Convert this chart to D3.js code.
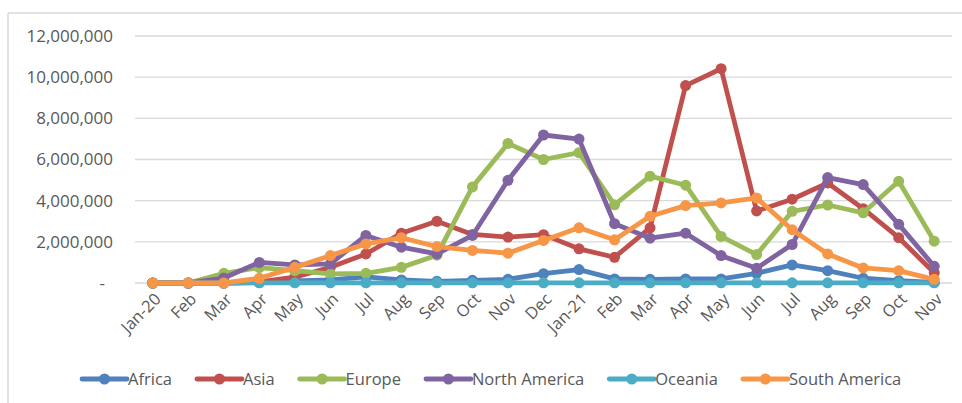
<!DOCTYPE html>
<html>
<head>
<meta charset="utf-8">
<script src="https://cdn.jsdelivr.net/npm/d3@7"></script>
<style>
  html, body { margin: 0; padding: 0; background: #fff; }
  svg { display: block; font-family: "Open Sans", sans-serif; }
</style>
</head>
<body>
<svg id="chart" width="962" height="403"></svg>
<script>
const months = ["Jan-20","Feb","Mar","Apr","May","Jun","Jul","Aug","Sep","Oct","Nov","Dec",
                "Jan-21","Feb","Mar","Apr","May","Jun","Jul","Aug","Sep","Oct","Nov"];
const seriesNames = ["Africa","Asia","Europe","North America","Oceania","South America"];
const africa       = [0,0,0,20000,100000,150000,300000,150000,80000,130000,180000,450000,650000,200000,180000,200000,200000,470000,880000,600000,230000,110000,30000];
const asia         = [0,0,0,50000,280000,760000,1410000,2420000,3000000,2360000,2230000,2350000,1660000,1250000,2680000,9590000,10410000,3500000,4070000,4860000,3610000,2200000,500000];
const europe       = [0,0,470000,750000,600000,440000,470000,760000,1350000,4670000,6780000,6000000,6330000,3800000,5190000,4750000,2260000,1380000,3480000,3790000,3410000,4940000,2030000];
const northAmerica = [0,0,240000,1000000,880000,930000,2310000,1740000,1410000,2310000,4990000,7190000,6990000,2880000,2180000,2420000,1330000,720000,1870000,5120000,4780000,2850000,810000];
const oceania      = [0,0,0,10000,10000,10000,10000,10000,10000,10000,10000,10000,10000,10000,10000,10000,10000,10000,10000,10000,10000,10000,10000];
const southAmerica = [0,0,0,230000,760000,1330000,1900000,2200000,1770000,1580000,1450000,2070000,2680000,2100000,3240000,3760000,3890000,4130000,2590000,1410000,730000,600000,180000];
const yTicks = [0,2000000,4000000,6000000,8000000,10000000,12000000];
const colors = ["#4F81BD","#C0504D","#9BBB59","#8064A2","#4BACC6","#F79646"];

const seriesValues = [africa, asia, europe, northAmerica, oceania, southAmerica];
const series = seriesNames.map((name, i) => ({ name, color: colors[i], values: seriesValues[i] }));

const svg = d3.select("#chart");
const W = 962, H = 403;
const plot = { left: 135, right: 952, top: 36, bottom: 283 };

svg.append("rect").attr("width", W).attr("height", H).attr("fill", "#fff");
// chart border (top and left visible)
svg.append("line").attr("x1", 8).attr("x2", W).attr("y1", 13).attr("y2", 13)
  .attr("stroke", "#d9d9d9").attr("stroke-width", 1.5);
svg.append("line").attr("x1", 8).attr("x2", 8).attr("y1", 13).attr("y2", H)
  .attr("stroke", "#d9d9d9").attr("stroke-width", 1.5);

const x = d3.scaleBand().domain(d3.range(months.length)).range([plot.left, plot.right]);
const y = d3.scaleLinear().domain([0, 12000000]).range([plot.bottom, plot.top]);

// gridlines
svg.append("g").selectAll("line").data(yTicks).join("line")
  .attr("x1", plot.left).attr("x2", plot.right)
  .attr("y1", d => y(d)).attr("y2", d => y(d))
  .attr("stroke", "#d9d9d9").attr("stroke-width", 1.3);

// y axis labels
const fmt = d3.format(",");
const yAxis = d3.axisLeft(y).tickValues(yTicks).tickSize(0).tickPadding(22)
  .tickFormat(d => d === 0 ? "-" : fmt(d));
const yg = svg.append("g").attr("transform", `translate(${plot.left},0)`).call(yAxis);
yg.select(".domain").remove();
yg.selectAll("text").attr("fill", "#595959").attr("font-size", 17)
  .attr("font-family", "'Open Sans', sans-serif");
yg.selectAll(".tick").filter(d => d === 0).select("text").attr("dx", -8);

// x axis labels
const xAxis = d3.axisBottom(x).tickSize(0).tickFormat(i => months[i]);
const xg = svg.append("g").attr("transform", `translate(0,${plot.bottom})`).call(xAxis);
xg.select(".domain").remove();
xg.selectAll("text")
  .attr("fill", "#595959").attr("font-size", 16.5)
  .attr("font-family", "'Open Sans', sans-serif")
  .attr("text-anchor", "end")
  .attr("dy", "0")
  .attr("transform", "translate(7,15) rotate(-45)");

const cx = i => x(i) + x.bandwidth() / 2;
const line = d3.line().x((d, i) => cx(i)).y(d => y(d));

const sg = svg.append("g").selectAll("g").data(series).join("g");
sg.append("path")
  .attr("d", d => line(d.values))
  .attr("fill", "none")
  .attr("stroke", d => d.color)
  .attr("stroke-width", 4.8)
  .attr("stroke-linejoin", "round")
  .attr("stroke-linecap", "round");
sg.selectAll("circle").data(d => d.values.map(v => ({ v, c: d.color }))).join("circle")
  .attr("cx", (d, i) => cx(i)).attr("cy", d => y(d.v))
  .attr("r", 5.5).attr("fill", d => d.c);

// legend
const legend = svg.append("g").attr("transform", "translate(82,379)");
let lx = 0;
series.forEach(s => {
  const g = legend.append("g").attr("transform", `translate(${lx},0)`);
  g.append("line").attr("x1", 0).attr("x2", 45).attr("y1", 0).attr("y2", 0)
    .attr("stroke", s.color).attr("stroke-width", 4.8).attr("stroke-linecap", "round");
  g.append("circle").attr("cx", 22.5).attr("cy", 0).attr("r", 5.5).attr("fill", s.color);
  const t = g.append("text").attr("x", 46).attr("y", 0).attr("dy", "0.35em")
    .attr("fill", "#595959").attr("font-size", 16.5).text(s.name);
  lx += 46 + t.node().getComputedTextLength() + 25;
});
</script>
</body>
</html>
